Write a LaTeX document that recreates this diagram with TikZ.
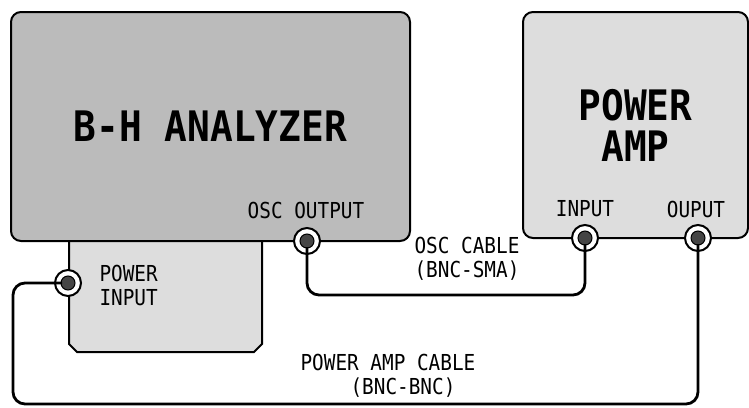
\documentclass[tikz,border=0pt]{standalone}
\usepackage{fontspec}
\setmainfont{DejaVu Sans}
\newfontfamily\gothfont[FakeStretch=0.88]{DejaVu Sans Mono}
\newfontfamily\headfont[FakeStretch=0.9]{DejaVu Sans Mono}
\usetikzlibrary{calc}
\definecolor{cabinetgray}{HTML}{BBBBBB}
\definecolor{panelgray}{HTML}{DDDDDD}
\definecolor{jackgray}{HTML}{454545}
\definecolor{ink}{HTML}{000000}

\begin{document}
\begin{tikzpicture}[
  x=1pt,y=-1pt,
  line join=miter,
  cabinet/.style={draw=ink,line width=2pt,rounded corners=10pt,inner sep=0pt},
  lowbox/.style={draw=ink,line width=2pt,fill=panelgray},
  jack/.style={circle,draw=ink,line width=2pt,fill=white,minimum size=26pt,inner sep=0pt,
               path picture={\fill[jackgray,draw=ink,line width=1pt]
                 (path picture bounding box.center) circle (7pt);}},
  cable/.style={draw=ink,line width=2.8pt,rounded corners=12pt,
                shorten <=6pt,shorten >=6pt},
  headtext/.style={font=\headfont\bfseries\fontsize{42}{41}\selectfont,align=center},
  jacktext/.style={font=\gothfont\fontsize{22}{24}\selectfont,align=center}
]
\useasboundingbox (0,0) rectangle (749,407);

% Units
\draw[lowbox] (69,230) -- (69,344) -- (77,352) -- (254,352) -- (262,344) -- (262,230);
\node[cabinet,fill=cabinetgray,minimum width=399pt,minimum height=229pt,headtext]
  (bh) at (210.5,126.5) {B-H ANALYZER};
\node[cabinet,fill=panelgray,minimum width=225pt,minimum height=226pt,headtext]
  (amp) at (635.5,125) {POWER\\AMP};

% Port and cable labels
\node[jacktext] (osclbl) at (306,210) {OSC OUTPUT};
\node[jacktext] (inlbl) at (585,209) {INPUT};
\node[jacktext] (outlbl) at (696,209) {OUPUT};
\node[jacktext,align=left,anchor=west] (pwrlbl) at (96,285) {POWER\\INPUT};
\node[jacktext,align=left,anchor=west] (osccab) at (411,259) {OSC CABLE\\(BNC-SMA)};
\node[jacktext,align=left,anchor=west] (pwrcab) at (297,376)
  {POWER AMP CABLE\\\hspace*{50pt}(BNC-BNC)};

% Jacks
\node[jack] (oscout) at (307,241) {};
\node[jack] (ampin) at (585,238) {};
\node[jack] (ampout) at (698,238) {};
\node[jack] (pwrin) at (68,283) {};

% Cables
\coordinate (oscbend) at (0,295);
\coordinate (pwrbend) at (13,404);
\draw[cable] (oscout.center) |- (ampin.center |- oscbend) -- (ampin.center);
\draw[cable] (ampout.center) |- (pwrbend) |- (pwrin.center);
\end{tikzpicture}
\end{document}
